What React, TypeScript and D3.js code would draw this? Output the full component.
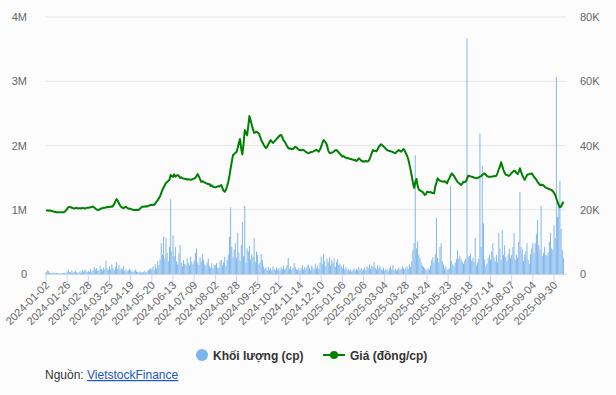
import React from "react";
import * as d3 from "d3";

// Tick labels every 18 trading sessions (index 0, 18, 36, ...)
const tickLabels = [
  "2024-01-02","2024-01-26","2024-02-28","2024-03-25","2024-04-19","2024-05-20",
  "2024-06-13","2024-07-09","2024-08-02","2024-08-28","2024-09-25","2024-10-21",
  "2024-11-14","2024-12-10","2025-01-06","2025-02-06","2025-03-04","2025-03-28",
  "2025-04-24","2025-05-23","2025-06-18","2025-07-14","2025-08-07","2025-09-04","2025-09-30",
];
const tickEvery = 18;

// Price (thousand VND / share), one value per session
const price = [
  19.8,19.8,19.7,19.8,19.7,19.6,19.5,19.4,19.3,19.2,19.2,19.2,19.2,19.2,19.2,19.2,19.4,19.8,
  20.3,20.8,20.9,20.8,20.6,20.5,20.4,20.5,20.6,20.4,20.5,20.5,20.4,20.6,20.5,20.4,20.5,20.6,
  20.6,20.7,20.8,20.9,21.0,20.7,20.4,20.1,19.9,20.0,20.2,20.4,20.5,20.6,20.6,20.7,20.9,20.8,
  20.9,21.0,20.9,21.2,21.8,22.6,23.3,22.8,22.0,21.3,20.9,20.6,20.5,20.8,20.9,20.6,20.4,20.3,
  20.3,20.1,20.0,19.9,19.9,20.0,19.9,20.0,20.4,20.7,21.0,20.9,21.0,21.1,21.0,21.2,21.3,21.5,
  21.5,21.6,21.5,22.0,22.5,23.0,23.6,24.2,25.2,26.2,26.9,27.6,28.3,28.6,29.0,29.3,30.8,30.5,
  30.2,31.0,30.3,30.6,30.8,30.5,29.9,30.1,29.8,29.7,29.6,29.6,29.4,29.5,29.4,29.3,29.4,29.6,
  29.7,29.9,30.5,31.1,30.4,29.5,28.7,28.9,28.6,28.5,28.3,28.1,27.9,28.0,27.4,27.6,27.2,27.0,
  27.0,27.1,27.3,27.2,27.5,27.7,26.8,25.9,25.6,26.2,27.3,28.7,30.6,32.8,35.0,37.0,37.3,37.7,
  38.0,39.2,40.8,42.0,39.0,37.2,40.5,44.8,44.0,43.2,46.0,49.2,47.8,46.4,45.0,43.9,44.1,44.3,
  44.0,43.8,42.8,41.7,41.0,40.3,39.7,39.2,39.6,40.3,41.0,41.7,41.2,40.8,41.2,41.6,42.0,42.4,
  42.8,43.2,43.3,42.5,41.6,41.2,40.5,39.8,39.2,39.0,39.1,38.9,38.9,39.2,39.6,39.4,39.0,38.7,
  38.6,38.5,38.6,38.6,38.3,38.0,37.8,37.6,37.7,37.9,38.0,38.1,38.3,38.5,38.6,38.4,38.1,38.8,
  39.6,40.8,41.7,41.3,40.9,40.0,38.5,37.7,37.6,37.8,37.9,38.2,38.5,38.6,38.2,37.8,37.4,37.0,
  36.5,36.7,36.4,36.2,36.0,36.1,35.9,35.8,35.7,35.6,35.4,35.5,35.2,35.5,36.0,35.7,35.3,35.0,
  35.1,35.0,35.2,35.0,35.1,35.6,36.6,37.6,38.6,38.3,38.4,38.2,38.8,39.6,40.0,40.4,40.0,39.7,
  39.4,38.9,38.6,38.4,38.3,38.2,38.1,37.9,37.7,37.6,38.0,38.3,38.6,38.3,38.1,38.5,38.9,38.4,
  37.6,36.8,35.8,34.2,32.5,30.5,28.5,26.8,28.5,29.6,27.5,26.3,26.0,25.8,25.6,25.2,24.6,24.8,
  25.6,25.5,25.4,25.5,25.3,25.2,25.1,27.2,28.4,29.8,29.3,29.0,28.9,28.8,28.7,28.9,28.6,28.2,
  29.2,29.8,30.6,31.3,30.9,30.5,29.8,29.2,28.7,28.3,28.0,27.7,28.2,28.7,28.6,28.8,29.6,30.6,
  30.5,30.4,30.3,30.2,30.0,29.9,29.8,29.9,30.1,30.3,30.5,30.8,31.1,31.3,30.9,30.5,30.3,30.3,
  30.3,30.3,30.4,30.5,30.4,30.6,31.5,32.6,33.4,34.8,33.6,32.4,31.5,30.9,30.8,30.6,30.6,31.0,
  31.5,31.8,32.2,32.0,31.5,31.1,31.8,32.9,31.8,30.8,30.0,29.3,30.0,30.8,31.0,31.1,31.2,31.3,
  30.8,30.2,29.8,29.3,28.7,28.2,27.7,27.8,27.7,27.6,27.2,26.9,26.7,26.6,26.4,26.3,26.1,25.8,
  25.2,24.6,23.5,22.5,21.4,20.8,21.0,21.8,22.5,
];

// Volume (thousand shares), one value per session
const volume = [
  30,60,45,20,15,10,25,15,10,20,15,10,12,8,10,15,20,12,
  40,70,25,30,60,20,35,50,25,15,30,45,20,60,40,70,55,30,
  50,30,80,40,60,110,70,90,45,60,130,80,55,100,70,210,90,60,
  120,70,150,90,60,110,180,80,140,60,90,70,120,50,70,40,60,80,
  60,40,30,50,70,40,30,25,40,30,20,35,50,30,40,60,70,90,
  80,120,60,150,90,200,140,220,480,300,580,250,560,330,200,420,1170,350,
  600,280,420,200,150,320,450,180,120,220,160,140,250,170,130,270,190,150,
  210,330,400,180,140,260,190,310,220,150,130,180,240,120,100,170,90,130,
  140,170,100,90,200,220,130,180,270,120,220,300,580,1040,420,260,380,480,
  250,640,330,200,450,810,280,1060,180,400,350,440,230,310,270,560,190,350,
  300,150,180,310,220,120,80,100,60,110,70,90,50,120,80,60,100,70,
  90,60,110,80,130,70,100,140,250,80,120,60,90,170,110,70,60,90,
  60,90,140,70,110,80,120,150,90,60,130,100,70,160,90,120,80,180,
  270,150,310,200,120,240,180,260,130,220,170,250,110,190,230,140,160,120,
  90,150,70,110,60,80,50,70,40,60,90,50,80,60,110,70,90,50,
  70,100,60,120,90,150,80,130,110,190,100,70,140,90,120,80,60,100,
  50,80,60,40,90,120,70,140,60,80,50,70,100,60,80,120,90,70,
  90,120,80,150,110,200,370,480,1850,400,510,300,250,180,130,110,90,70,
  60,90,70,130,220,260,180,310,870,250,180,420,480,200,150,90,120,60,
  70,90,1370,200,150,120,180,230,370,240,280,220,190,160,210,240,3670,270,
  280,320,210,250,190,560,130,180,240,2190,420,1680,790,230,120,160,250,300,
  220,350,480,260,200,300,180,640,400,220,680,300,450,260,200,310,390,250,
  300,420,640,220,300,250,500,1280,420,380,200,300,350,480,220,160,300,400,
  480,320,480,620,840,450,380,1060,280,330,420,300,290,330,500,640,400,380,
  760,560,3070,890,1100,1450,700,370,250,
];

const volTicks = [0, 1000, 2000, 3000, 4000];
const volTickLabels = ["0", "1M", "2M", "3M", "4M"];
const priceTickLabels = ["0", "20K", "40K", "60K", "80K"];
const priceTicks = [0, 20, 40, 60, 80];

const W = 616;
const H = 395;
const FONT = "'Liberation Sans', Arial, Helvetica, sans-serif";

export default function App() {
  const left = 46;
  const top = 17;
  const bottom = 274;
  const n = price.length;
  const x = d3.scaleLinear().domain([0, n - 1]).range([left, left + (n - 1) * 1.176]);
  const yV = d3.scaleLinear().domain([0, 4000]).range([bottom, top]);
  const yP = d3.scaleLinear().domain([0, 80]).range([bottom, top]);
  const line = d3
    .line<number>()
    .x((_, i) => x(i))
    .y((d) => yP(d))
    .curve(d3.curveLinear);
  const gridX0 = 45;
  const gridX1 = 566;
  const bw = 0.95;

  return (
    <svg
      width={W}
      height={H}
      style={{ position: "absolute", left: 0, top: 0, background: "#fcfcfc" }}
      fontFamily={FONT}
    >
      <rect x={0} y={0} width={W} height={H} fill="#fcfcfc" />
      {/* grid */}
      {volTicks.slice(1).map((t) => (
        <line key={t} x1={gridX0} x2={gridX1} y1={yV(t)} y2={yV(t)} stroke="#e6e6e6" strokeWidth={1} />
      ))}
      {/* left axis labels */}
      {volTicks.map((t, i) => (
        <text key={t} x={27} y={yV(t) + 4} textAnchor="end" fontSize={11} fill="#666">
          {volTickLabels[i]}
        </text>
      ))}
      {/* right axis labels */}
      {priceTicks.map((t, i) => (
        <text key={t} x={580} y={yP(t) + 4} textAnchor="start" fontSize={11} fill="#666">
          {priceTickLabels[i]}
        </text>
      ))}
      {/* bars */}
      {volume.map((v, i) => (
        <rect key={i} x={x(i) - bw / 2} y={yV(v)} width={bw} height={bottom - yV(v)} fill="#7cb5ec" />
      ))}
      {/* x axis */}
      <line x1={gridX0} x2={gridX1} y1={bottom + 0.5} y2={bottom + 0.5} stroke="#ccd6eb" strokeWidth={1} />
      {tickLabels.map((lab, k) => {
        const tx = x(k * tickEvery);
        return (
          <g key={lab}>
            <line x1={tx} x2={tx} y1={bottom} y2={bottom + 10} stroke="#ccd6eb" strokeWidth={1} />
            <text
              transform={`translate(${tx + 4},${bottom + 12}) rotate(-45)`}
              textAnchor="end"
              fontSize={11}
              fill="#666"
            >
              {lab}
            </text>
          </g>
        );
      })}
      {/* price line */}
      <path d={line(price) || ""} fill="none" stroke="#008000" strokeWidth={2} strokeLinejoin="round" />
      {/* legend */}
      <circle cx={202} cy={355} r={6} fill="#7cb5ec" />
      <text x={213} y={359.5} fontSize={12} fontWeight="bold" fill="#333">
        Khối lượng (cp)
      </text>
      <line x1={323} x2={345} y1={355} y2={355} stroke="#008000" strokeWidth={2} />
      <circle cx={334} cy={355} r={4} fill="#008000" />
      <text x={350} y={359.5} fontSize={12} fontWeight="bold" fill="#333">
        Giá (đồng/cp)
      </text>
      {/* source */}
      <text x={45} y={379} fontSize={12} fill="#333">
        Nguồn:{" "}
        <tspan fill="#1a56c9" textDecoration="underline">VietstockFinance</tspan>
      </text>
    </svg>
  );
}
